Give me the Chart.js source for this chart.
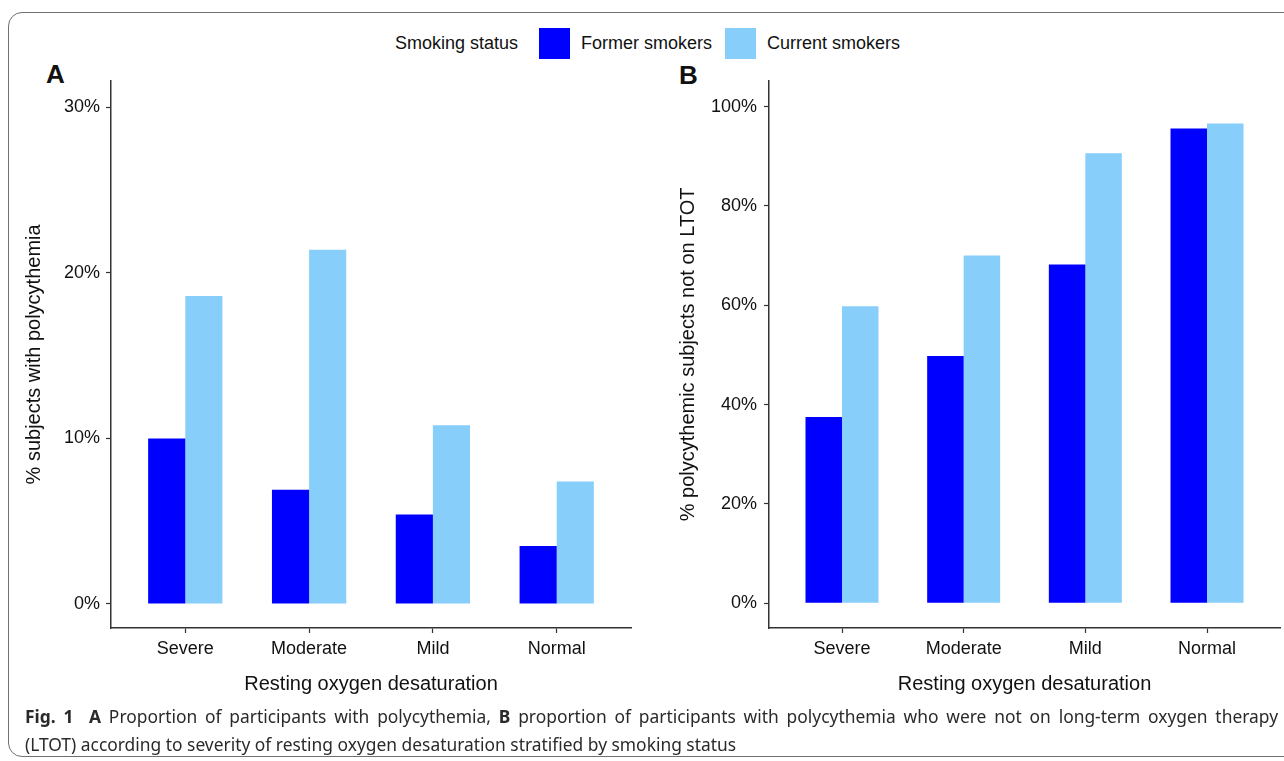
<!DOCTYPE html>
<html>
<head>
<meta charset="utf-8">
<script src="https://cdn.jsdelivr.net/npm/chart.js@4.4.1/dist/chart.umd.min.js"></script>
<style>
  body { margin: 0; width: 1284px; height: 761px; background: #fff; position: relative; overflow: hidden; font-family: "Liberation Sans", Arial, sans-serif; }
  #frame { position: absolute; left: 8px; top: 12px; width: 1310px; height: 745px; border: 1.5px solid #707070; border-radius: 14px; box-sizing: border-box; }
  canvas { position: absolute; }
  #legend { position: absolute; left: 395px; top: 28px; height: 31px; display: flex; align-items: center; font-size: 18px; color: #111; white-space: nowrap; }
  #legend .key { width: 31px; height: 31px; display: inline-block; }
  .panel { position: absolute; font-weight: bold; font-size: 26px; color: #111; }
  #caption { position: absolute; left: 25px; top: 702px; font-family: "Noto Sans", "Open Sans", sans-serif; font-size: 17.4px; line-height: 28px; color: #2a2a2a; white-space: nowrap; }
  #caption .just { width: 1253px; text-align: justify; text-align-last: justify; white-space: normal; }
</style>
</head>
<body>
<div id="frame"></div>
<div id="legend"></div>
<div class="panel" style="left:46px; top:59px;">A</div>
<div class="panel" style="left:679px; top:60px;">B</div>
<canvas id="chartA" width="640" height="647" style="left:0px; top:64px;"></canvas>
<canvas id="chartB" width="644" height="648" style="left:640px; top:63px;"></canvas>
<div id="caption">
  <div class="just"><b>Fig. 1</b>&nbsp;&nbsp;<b>A</b> Proportion of participants with polycythemia, <b>B</b> proportion of participants with polycythemia who were not on long-term oxygen therapy</div>
  <div>(LTOT) according to severity of resting oxygen desaturation stratified by smoking status</div>
</div>
<script>
// valores (%)
const categories = ['Severe', 'Moderate', 'Mild', 'Normal'];
const seriesNames = ['Former smokers', 'Current smokers'];
const seriesColors = ['#0000ff', '#87cefa'];
const formerA = [10.0, 6.9, 5.4, 3.5];
const currentA = [18.6, 21.4, 10.8, 7.4];
const formerB = [37.5, 49.8, 68.2, 95.6];
const currentB = [59.8, 70.0, 90.6, 96.6];
const ticksA = [0, 10, 20, 30];
const ticksB = [0, 20, 40, 60, 80, 100];

Chart.defaults.font.family = '"Liberation Sans", Arial, sans-serif';
Chart.defaults.color = '#111';

// legenda em HTML
const legend = document.getElementById('legend');
legend.innerHTML = '<span style="margin-right:21px">Smoking status</span>' +
    seriesNames.map((n, i) =>
        `<span class="key" style="background:${seriesColors[i]}"></span>` +
        `<span style="margin-left:11px; margin-right:13px">${n}</span>`).join('');

function desenharPainel(id, former, current, ticks, yMin, yMax, yTitle, opts) {
    const toXY = arr => arr.map((v, i) => ({ x: i, y: v }));
    return new Chart(document.getElementById(id), {
        type: 'bar',
        data: {
            datasets: [
                { label: seriesNames[0], data: toXY(former), backgroundColor: seriesColors[0], borderWidth: 0 },
                { label: seriesNames[1], data: toXY(current), backgroundColor: seriesColors[1], borderWidth: 0 }
            ]
        },
        options: {
            responsive: false,
            animation: false,
            devicePixelRatio: 1,
            categoryPercentage: 0.6,
            barPercentage: 1.0,
            layout: { padding: { top: 0, right: opts.padRight, left: 0, bottom: 0 } },
            plugins: { legend: { display: false }, tooltip: { enabled: false } },
            scales: {
                x: {
                    type: 'linear',
                    min: -0.6,
                    max: 3.6,
                    offset: false,
                    afterBuildTicks: axis => { axis.ticks = categories.map((c, i) => ({ value: i })); },
                    afterFit: scale => { scale.height = 83; },
                    border: { display: true, color: '#333', width: 1.5 },
                    grid: { offset: false, drawOnChartArea: false, drawTicks: true, tickLength: 5, tickColor: '#333', tickWidth: 1.2 },
                    ticks: {
                        autoSkip: false, maxRotation: 0, padding: 5,
                        font: { size: 18 }, color: '#111',
                        callback: v => categories[v]
                    },
                    title: {
                        display: true, text: 'Resting oxygen desaturation',
                        font: { size: 20 }, color: '#111', padding: { top: 0, bottom: 15 }
                    }
                },
                y: {
                    min: yMin,
                    max: yMax,
                    afterBuildTicks: axis => { axis.ticks = ticks.map(v => ({ value: v })); },
                    afterFit: scale => { scale.width = opts.yWidth; },
                    border: { display: true, color: '#333', width: 1.5 },
                    grid: { drawOnChartArea: false, drawTicks: true, tickLength: 5, tickColor: '#333', tickWidth: 1.2 },
                    ticks: {
                        padding: opts.tickPad, font: { size: 18 }, color: '#111',
                        callback: v => v + '%'
                    },
                    title: {
                        display: true, text: yTitle,
                        font: { size: 20 }, color: '#111', padding: { top: opts.titlePad, bottom: 0 }
                    }
                }
            }
        }
    });
}

desenharPainel('chartA', formerA, currentA, ticksA, -1.45, 31.6, '% subjects with polycythemia',
    { padRight: 9, yWidth: 111, tickPad: 6, titlePad: 22 });
desenharPainel('chartB', formerB, currentB, ticksB, -5, 105.2, '% polycythemic subjects not on LTOT',
    { padRight: 4, yWidth: 129, tickPad: 7, titlePad: 36 });
</script>
</body>
</html>
